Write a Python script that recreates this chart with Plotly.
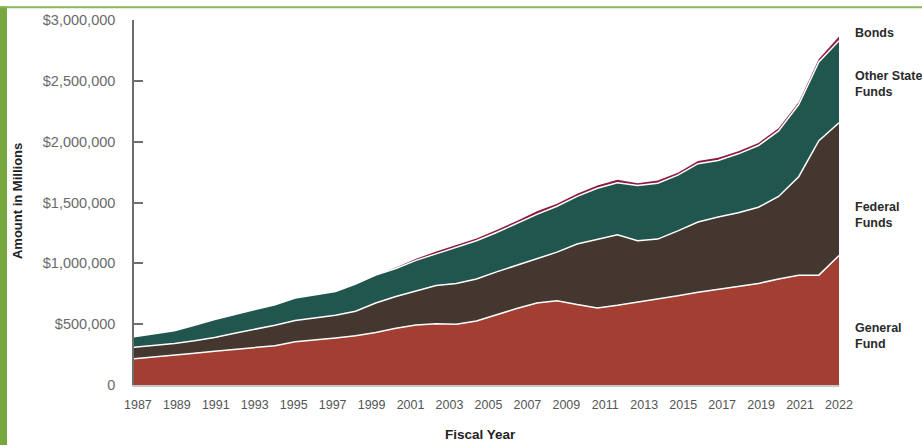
import plotly.graph_objects as go

# ---- data (amounts in millions of dollars) ----
years = list(range(1987, 2023))
general_fund = [216000, 229000, 243000, 261000, 278000, 291000, 305000, 323000, 356000, 369000,
                386000, 404000, 431000, 466000, 493000, 504000, 499000, 526000, 580000, 628000,
                674000, 693000, 661000, 633000, 655000, 679000, 706000, 733000, 763000, 787000,
                809000, 835000, 871000, 903000, 903000, 1065000]
federal_funds = [94000, 94000, 99000, 103000, 113000, 135000, 153000, 168000, 175000, 184000,
                 188000, 202000, 243000, 262000, 281000, 313000, 336000, 345000, 350000, 356000,
                 369000, 399000, 498000, 566000, 580000, 507000, 493000, 534000, 577000, 593000,
                 606000, 626000, 679000, 809000, 1105000, 1091000]
other_state_funds = [86000, 100000, 103000, 127000, 148000, 154000, 162000, 169000, 183000, 188000,
                     194000, 224000, 229000, 229000, 250000, 261000, 297000, 315000, 323000, 345000,
                     359000, 377000, 391000, 418000, 428000, 453000, 459000, 458000, 479000, 466000,
                     485000, 507000, 539000, 593000, 647000, 674000]
bonds = [0, 0, 0, 0, 0, 0, 0, 0, 0, 0,
         0, 0, 0, 8000, 13000, 19000, 18000, 19000, 22000, 19000,
         27000, 21000, 21000, 22000, 25000, 20000, 22000, 20000, 22000, 22000,
         22000, 22000, 22000, 18000, 25000, 35000]

x_tick_labels = ["1987", "1989", "1991", "1993", "1995", "1997", "1999", "2001", "2003",
                 "2005", "2007", "2009", "2011", "2013", "2015", "2017", "2019", "2021", "2022"]
y_tick_vals = [0, 500000, 1000000, 1500000, 2000000, 2500000, 3000000]
y_tick_text = ["0", "$500,000", "$1,000,000", "$1,500,000", "$2,000,000", "$2,500,000", "$3,000,000"]

series = [
    ("General Fund", general_fund, "#a33f32", "white", 1.5),
    ("Federal Funds", federal_funds, "#433730", "white", 1.5),
    ("Other State Funds", other_state_funds, "#21564f", "white", 1.5),
    ("Bonds", bonds, "#8c1c3e", "#8c1c3e", 0),
]

SANS = "Liberation Sans, Arial, Helvetica, sans-serif"

fig = go.Figure()
for name, vals, fillc, linec, lw in series:
    fig.add_trace(go.Scatter(
        x=years, y=vals, name=name, mode="lines", stackgroup="one",
        fillcolor=fillc, line=dict(color=linec, width=lw),
        hoverinfo="x+y+name",
    ))

# invisible helper trace so the evenly spaced year-label axis is drawn
label_idx = list(range(len(x_tick_labels)))
fig.add_trace(go.Scatter(
    x=label_idx, y=[0] * len(label_idx), xaxis="x2", yaxis="y", mode="markers",
    marker=dict(size=1, opacity=0), hoverinfo="skip", showlegend=False,
))

W, H = 922, 446
L, R, T, B = 134, 83, 14, 61
pw, ph = W - L - R, H - T - B

def px(xp):
    return (xp - L) / pw

def py(yp):
    return (H - B - yp) / ph

label_font = dict(family=SANS, size=12.5, color="#2a2a2a", weight="bold")
LX = 853
annotations = [
    dict(text="Fiscal Year", x=px(480), y=py(435), xref="paper", yref="paper",
         xanchor="center", yanchor="middle", showarrow=False,
         font=dict(family=SANS, size=13.5, color="#222222", weight="bold")),
    dict(text="Amount in Millions", x=px(17), y=py(198), xref="paper", yref="paper",
         xanchor="center", yanchor="middle", showarrow=False, textangle=-90,
         font=dict(family=SANS, size=13, color="#222222", weight="bold")),
    dict(text="Bonds", x=px(LX), y=py(27.5), xref="paper", yref="paper",
         xanchor="left", yanchor="middle", showarrow=False, align="left", font=label_font),
    dict(text="Other State<br>Funds", x=px(LX), y=py(79), xref="paper", yref="paper",
         xanchor="left", yanchor="middle", showarrow=False, align="left", font=label_font),
    dict(text="Federal<br>Funds", x=px(LX), y=py(212), xref="paper", yref="paper",
         xanchor="left", yanchor="middle", showarrow=False, align="left", font=label_font),
    dict(text="General<br>Fund", x=px(LX), y=py(335), xref="paper", yref="paper",
         xanchor="left", yanchor="middle", showarrow=False, align="left", font=label_font),
]

shapes = [
    # green frame: left bar and top line
    dict(type="rect", xref="paper", yref="paper", x0=px(0), x1=px(7), y0=py(H), y1=py(0),
         fillcolor="#77a83f", line=dict(width=0), layer="above"),
    dict(type="rect", xref="paper", yref="paper", x0=px(0), x1=px(W), y0=py(2), y1=py(0),
         fillcolor="#8cb85a", line=dict(width=0), layer="above"),
]

fig.update_layout(
    width=W, height=H, margin=dict(l=L, r=R, t=T, b=B),
    paper_bgcolor="white", plot_bgcolor="white", showlegend=False,
    annotations=annotations, shapes=shapes,
    xaxis=dict(range=[1987, 2022], showgrid=False, zeroline=False, showticklabels=False,
               showline=True, linecolor="#c8c8c8", linewidth=1.5, ticks=""),
    xaxis2=dict(overlaying="x", anchor="y", side="bottom", range=[-0.1, 18],
                tickmode="array", tickvals=label_idx, ticktext=x_tick_labels,
                showgrid=False, zeroline=False, showline=False, ticks="",
                ticklabelstandoff=10,
                tickfont=dict(family=SANS, size=12.5, color="#555555")),
    yaxis=dict(range=[0, 3000000], tickmode="array", tickvals=y_tick_vals, ticktext=y_tick_text,
               showgrid=False, zeroline=False, showline=True, linecolor="#6e6e6e", linewidth=1.5,
               ticks="inside", ticklen=9, tickwidth=1.5, tickcolor="#6e6e6e",
               ticklabelstandoff=14,
               tickfont=dict(family=SANS, size=14.5, color="#6a6a6a")),
)

fig.write_html("out.html")
